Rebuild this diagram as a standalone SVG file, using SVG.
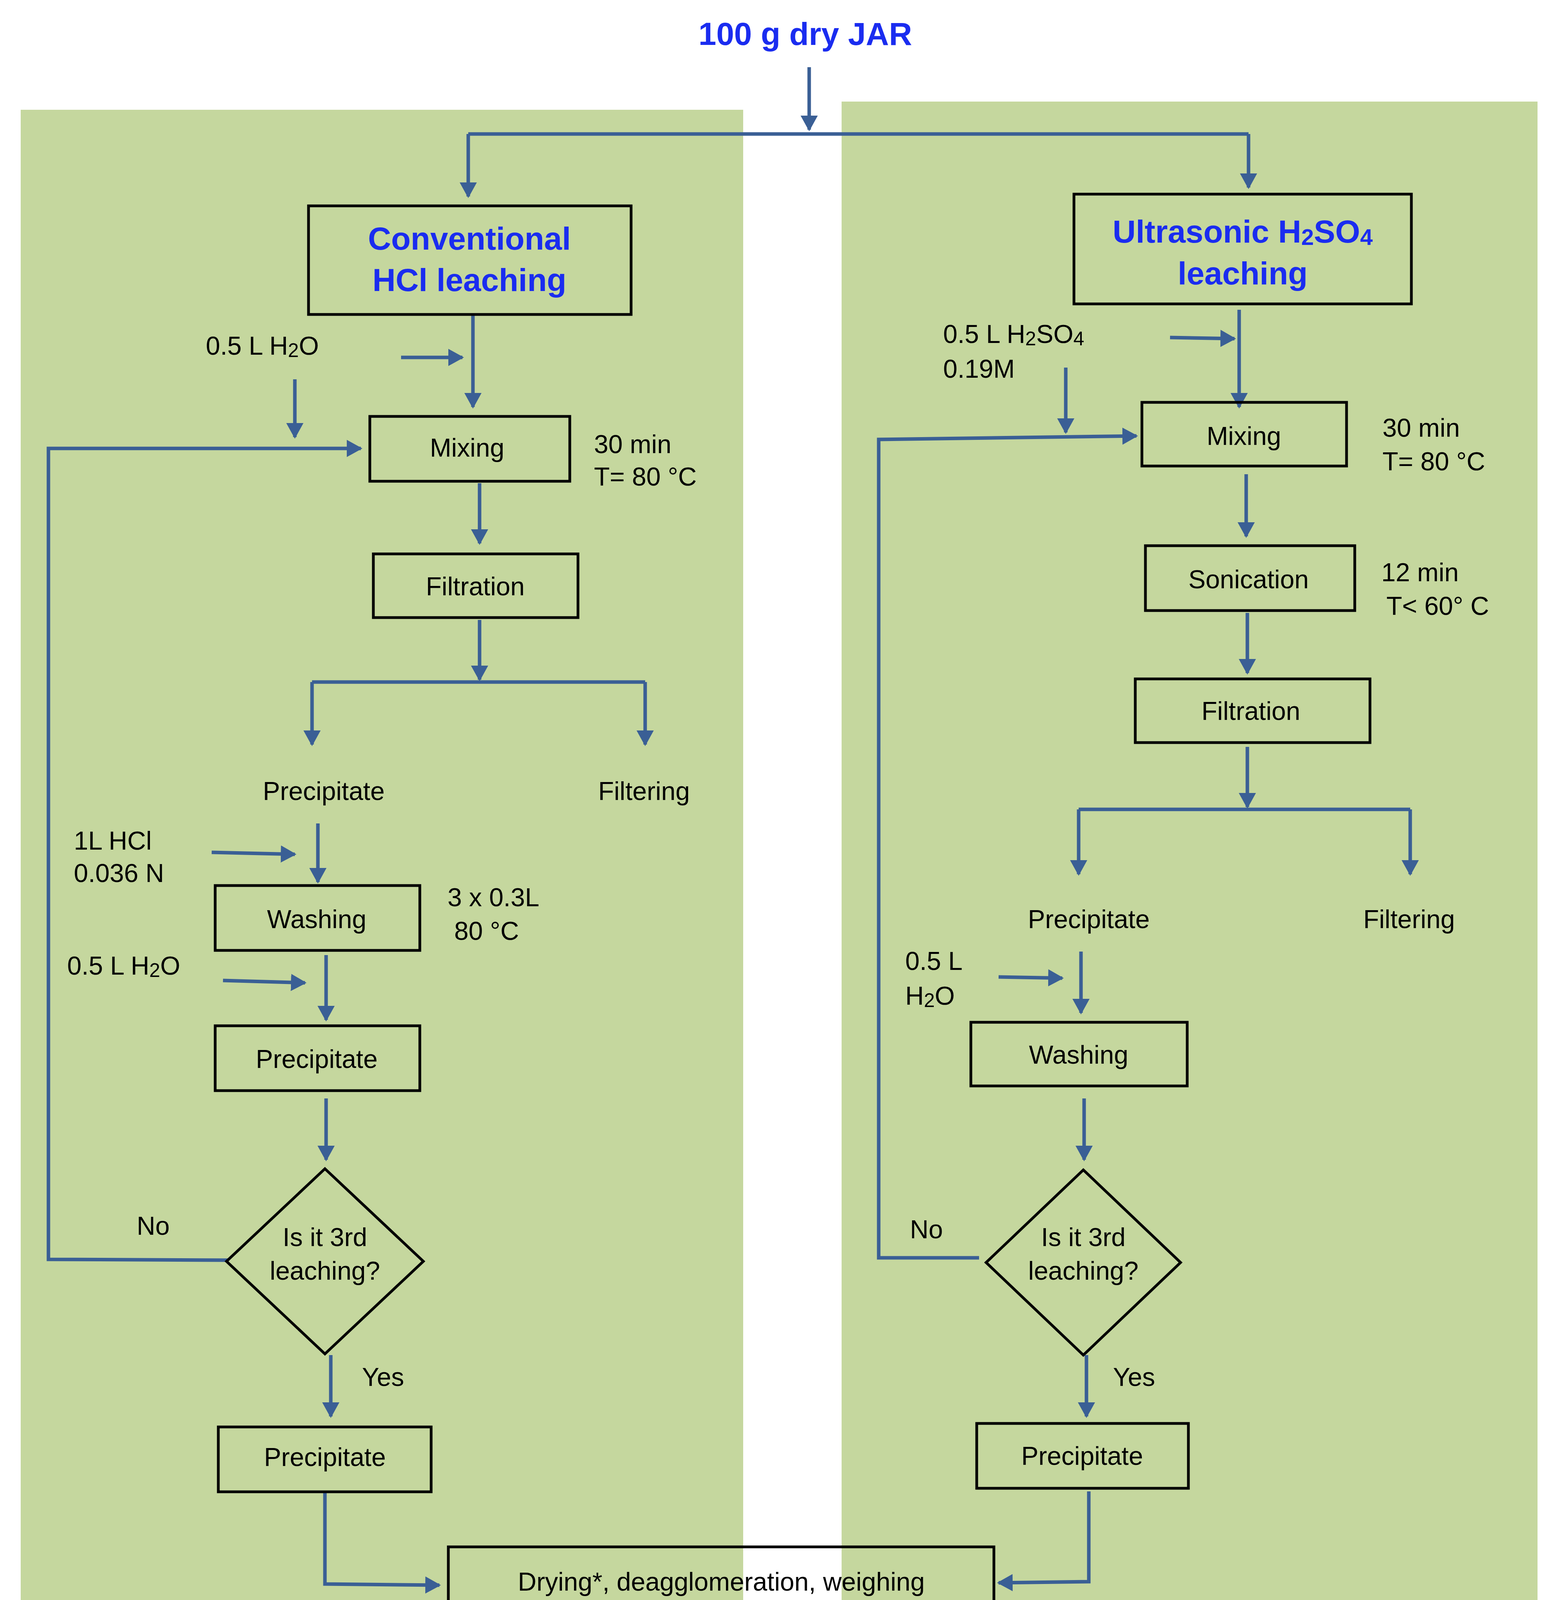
<svg xmlns="http://www.w3.org/2000/svg" width="3992" height="4648" viewBox="0 0 3992 4648">
<style>
.p{fill:#c5d79e}
.b{fill:none;stroke:#000;stroke-width:7}
.c{fill:none;stroke:#3a5f95;stroke-width:9}
.a{marker-end:url(#ah)}
text{font-family:"Liberation Sans",Arial,sans-serif;font-size:66px;fill:#000;dominant-baseline:central}
.m{text-anchor:middle}
.t{fill:#1a2cf0;font-weight:bold;font-size:82px}
.k{font-weight:bold;font-size:70px}
</style>
<defs>
<marker id="ah" markerUnits="userSpaceOnUse" markerWidth="40" markerHeight="44" refX="36" refY="22" orient="auto">
<path d="M0,0 L40,22 L0,44 Z" fill="#3a5f95"/>
</marker>
</defs>
<rect class="p" x="53" y="281" width="1850" height="4313"/>
<rect class="p" x="2155" y="260" width="1782" height="4334"/>
<text class="t m" x="2062" y="86">100 g dry JAR</text>
<g id="connectors">
<path class="c a" d="M2072,172 V332"/>
<path class="c" d="M1199,343 H3197"/>
<path class="c a" d="M1199,343 V503"/>
<path class="c a" d="M3197,343 V480"/>
<path class="c a" d="M1211,805 V1042"/>
<path class="c a" d="M1027,915 H1184"/>
<path class="c a" d="M755,971 V1119"/>
<path class="c a" d="M583,3226 L124,3224 V1148 H924"/>
<path class="c a" d="M1228,1237 V1391"/>
<path class="c a" d="M1228,1587 V1740"/>
<path class="c" d="M799,1746 H1652"/>
<path class="c a" d="M799,1746 V1906"/>
<path class="c a" d="M1652,1746 V1906"/>
<path class="c a" d="M542,2182 L755,2187"/>
<path class="c a" d="M814,2108 V2258"/>
<path class="c a" d="M571,2510 L781,2516"/>
<path class="c a" d="M835,2445 V2611"/>
<path class="c a" d="M835,2812 V2969"/>
<path class="c a" d="M847,3469 V3626"/>
<path class="c a" d="M832,3818 V4055 L1125,4058"/>
<path class="c a" d="M2788,3818 V4049 L2557,4052"/>
<path class="c a" d="M1536,4156 V4322"/>
<path class="c a" d="M2335,4156 V4322"/>
<path class="c a" d="M3173,793 V1042"/>
<path class="c a" d="M2996,864 L3161,867"/>
<path class="c a" d="M2729,941 V1107"/>
<path class="c a" d="M2507,3220 H2250 V1125 L2910,1116"/>
<path class="c a" d="M3191,1214 V1373"/>
<path class="c a" d="M3194,1569 V1723"/>
<path class="c a" d="M3194,1912 V2066"/>
<path class="c" d="M2762,2072 H3611"/>
<path class="c a" d="M2762,2072 V2238"/>
<path class="c a" d="M3611,2072 V2238"/>
<path class="c a" d="M2557,2501 L2720,2504"/>
<path class="c a" d="M2768,2436 V2593"/>
<path class="c a" d="M2776,2812 V2969"/>
<path class="c a" d="M2782,3469 V3626"/>
</g>
<g id="conv"><rect class="b" x="790" y="527" width="826" height="278"/><text class="t m" x="1202" y="610">Conventional</text><text class="t m" x="1202" y="716">HCl leaching</text></g>
<g id="ultra"><rect class="b" x="2750" y="497" width="864" height="281"/><text class="t m" x="3182" y="592">Ultrasonic H<tspan font-size="58" dy="14">2</tspan><tspan dy="-14">SO</tspan><tspan font-size="58" dy="14">4</tspan></text><text class="t m" x="3182" y="699">leaching</text></g>
<text x="527" y="885">0.5 L H<tspan font-size="50" dy="12">2</tspan><tspan dy="-12">O</tspan></text>
<g id="mixL"><rect class="b" x="947" y="1066" width="512" height="166"/><text class="m" x="1196" y="1146">Mixing</text></g>
<text x="1521" y="1137">30 min</text><text x="1521" y="1220">T= 80 °C</text>
<g id="filtL"><rect class="b" x="956" y="1418" width="524" height="163"/><text class="m" x="1217" y="1501">Filtration</text></g>
<text class="m" x="829" y="2025">Precipitate</text><text class="m" x="1649" y="2025">Filtering</text>
<text x="189" y="2152">1L HCl</text><text x="189" y="2235">0.036 N</text>
<g id="washL"><rect class="b" x="551" y="2267" width="524" height="166"/><text class="m" x="811" y="2353">Washing</text></g>
<text x="1146" y="2297">3 x 0.3L</text><text x="1163" y="2383">80 °C</text>
<text x="172" y="2472">0.5 L H<tspan font-size="50" dy="12">2</tspan><tspan dy="-12">O</tspan></text>
<g id="precL1"><rect class="b" x="551" y="2626" width="524" height="166"/><text class="m" x="811" y="2711">Precipitate</text></g>
<g id="diaL"><path class="b" d="M832,2992 L1084,3229 L832,3466 L580,3229 Z"/><text class="m" x="832" y="3167">Is it 3rd</text><text class="m" x="832" y="3253">leaching?</text></g>
<text x="350" y="3138">No</text><text x="927" y="3525">Yes</text>
<g id="precL2"><rect class="b" x="559" y="3653" width="545" height="166"/><text class="m" x="832" y="3730">Precipitate</text></g>
<g id="dry"><rect class="b" x="1148" y="3960" width="1397" height="166"/><text class="m" x="1847" y="4049">Drying*, deagglomeration, weighing</text></g>
<text class="k m" x="1545" y="4416">95.5 g</text><text class="k m" x="1545" y="4505">JAR1L</text>
<text class="k m" x="2404" y="4416">96.1 g</text><text class="k m" x="2404" y="4505">JAR2L</text>
<text x="3167" y="4446">*Drying; 120 ºC, 4h</text>
<text x="2415" y="855">0.5 L H<tspan font-size="50" dy="12">2</tspan><tspan dy="-12">SO</tspan><tspan font-size="50" dy="12">4</tspan></text>
<text x="2415" y="944">0.19M</text>
<g id="mixR"><rect class="b" x="2924" y="1030" width="524" height="163"/><text class="m" x="3185" y="1116">Mixing</text></g>
<text x="3540" y="1095">30 min</text><text x="3540" y="1181">T= 80 °C</text>
<g id="sonR"><rect class="b" x="2933" y="1397" width="536" height="166"/><text class="m" x="3197" y="1483">Sonication</text></g>
<text x="3537" y="1465">12 min</text><text x="3550" y="1551">T&lt; 60° C</text>
<g id="filtR"><rect class="b" x="2907" y="1738" width="601" height="163"/><text class="m" x="3203" y="1820">Filtration</text></g>
<text class="m" x="2788" y="2353">Precipitate</text><text class="m" x="3608" y="2353">Filtering</text>
<text x="2318" y="2460">0.5 L</text><text x="2318" y="2549">H<tspan font-size="50" dy="12">2</tspan><tspan dy="-12">O</tspan></text>
<g id="washR"><rect class="b" x="2486" y="2617" width="554" height="163"/><text class="m" x="2762" y="2700">Washing</text></g>
<g id="diaR"><path class="b" d="M2774,2995 L3023,3232 L2774,3469 L2525,3232 Z"/><text class="m" x="2774" y="3167">Is it 3rd</text><text class="m" x="2774" y="3253">leaching?</text></g>
<text x="2330" y="3147">No</text><text x="2850" y="3525">Yes</text>
<g id="precR"><rect class="b" x="2501" y="3644" width="542" height="166"/><text class="m" x="2771" y="3727">Precipitate</text></g>
</svg>
